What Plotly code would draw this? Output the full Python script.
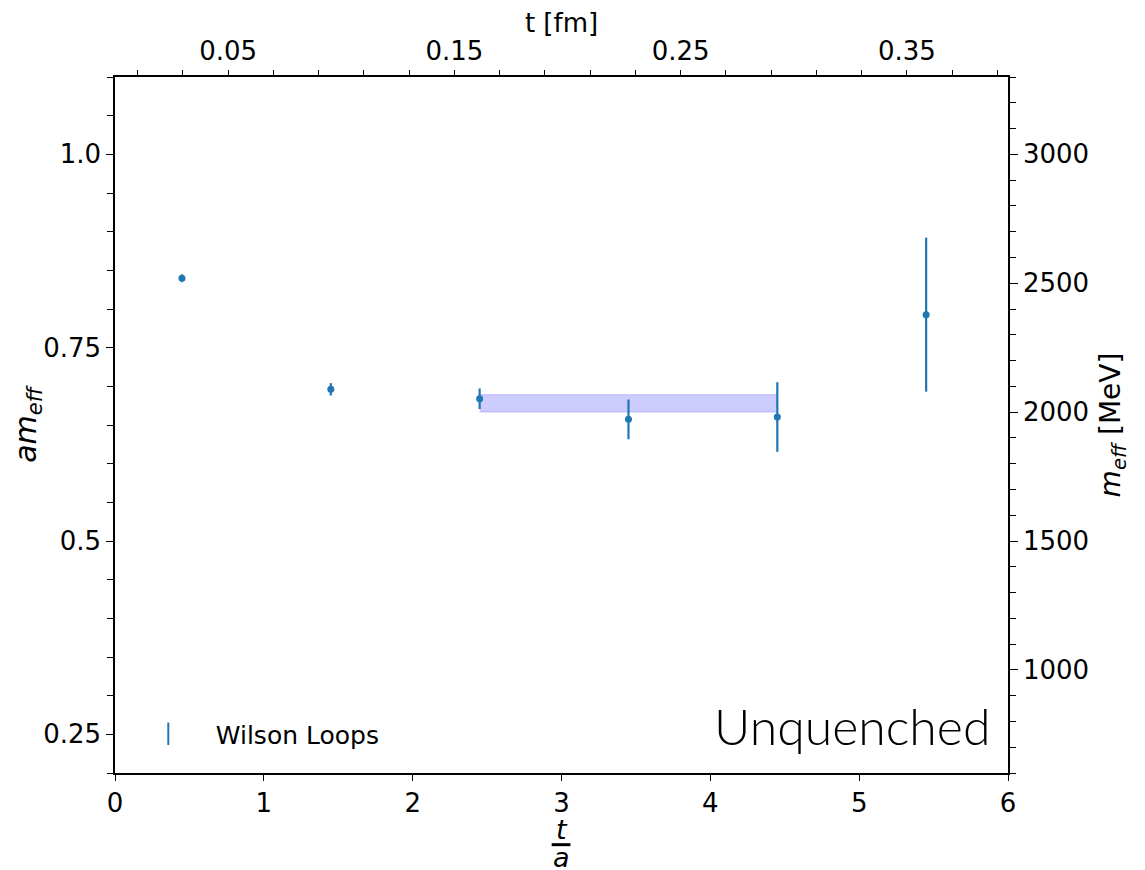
import plotly.graph_objects as go

# effective mass from Wilson loops, lattice units
t_over_a = [0.45, 1.45, 2.45, 3.45, 4.45, 5.45]
am_eff = [0.8397, 0.6961, 0.684, 0.6573, 0.6603, 0.7927]
am_err = [0.005, 0.008, 0.0133, 0.0257, 0.045, 0.0996]

# plateau fit band
band_t = [2.45, 4.45]
band_lo = [0.6667, 0.6667]
band_hi = [0.6892, 0.6892]

A_INV_MEV = 3000.0          # 1/a
A_FM = 197.327 / A_INV_MEV  # lattice spacing in fm

BLUE = "#1f77b4"
BAND = "rgba(0,0,255,0.2)"
FONT = "DejaVu Sans"

fig = go.Figure()

fig.add_trace(go.Scatter(
    x=band_t, y=band_lo, mode="lines", line=dict(color=BAND, width=1),
    showlegend=False, hoverinfo="skip"))
fig.add_trace(go.Scatter(
    x=band_t, y=band_hi, mode="lines", line=dict(color=BAND, width=1),
    fill="tonexty", fillcolor=BAND, showlegend=False, hoverinfo="skip"))

fig.add_trace(go.Scatter(
    x=t_over_a, y=am_eff, mode="markers",
    marker=dict(color=BLUE, size=7),
    error_y=dict(type="data", array=am_err, color=BLUE, thickness=2.2, width=0),
    showlegend=False))

# legend entry styled like an errorbar handle
fig.add_trace(go.Scatter(
    x=[None], y=[None], mode="markers", name="Wilson Loops",
    marker=dict(color=BLUE, symbol="line-ns-open", size=16,
                line=dict(color=BLUE, width=2))))

# invisible twin to carry the physical-unit axes
fig.add_trace(go.Scatter(
    x=[t * A_FM for t in t_over_a], y=[m * A_INV_MEV for m in am_eff],
    xaxis="x2", yaxis="y2", mode="markers", marker=dict(opacity=0),
    showlegend=False, hoverinfo="skip"))

axis_common = dict(showline=True, linecolor="black", linewidth=1.5,
                   ticks="outside", tickcolor="black", tickwidth=1.2,
                   showgrid=False, zeroline=False, automargin=False,
                   tickfont=dict(family=FONT, size=26, color="black"))

# the page body adds an 8px offset, so the figure is drawn 8px smaller
fig.update_layout(
    width=1137, height=862,
    margin=dict(l=107, r=137, t=69, b=97),
    plot_bgcolor="white", paper_bgcolor="white",
    font=dict(family=FONT, size=26, color="black"),
    xaxis=dict(range=[0, 6], dtick=1, tick0=0, ticklen=6, **axis_common),
    xaxis2=dict(range=[0, 6 * A_FM], overlaying="x", side="top", anchor="y",
                tickmode="array", tickvals=[0.05, 0.15, 0.25, 0.35],
                ticktext=["0.05", "0.15", "0.25", "0.35"], ticklen=5,
                minor=dict(tickmode="linear", tick0=0.01, dtick=0.02,
                           ticks="outside", ticklen=5, tickcolor="black"),
                title=dict(text="t [fm]", font=dict(size=26), standoff=0),
                **axis_common),
    yaxis=dict(range=[0.2, 1.1], tickmode="array",
               tickvals=[0.25, 0.5, 0.75, 1.0],
               ticktext=["0.25", "0.5", "0.75", "1.0"], ticklen=7,
               minor=dict(tickmode="linear", tick0=0, dtick=0.05,
                          ticks="outside", ticklen=6, tickcolor="black"),
               title=dict(text="<i>am</i><sub><i>eff</i></sub>",
                          font=dict(size=30), standoff=9),
               **axis_common),
    yaxis2=dict(range=[0.2 * A_INV_MEV, 1.1 * A_INV_MEV], overlaying="y",
                side="right", anchor="x", tick0=0, dtick=500, ticklen=8,
                minor=dict(tickmode="linear", tick0=0, dtick=100,
                           ticks="outside", ticklen=6, tickcolor="black"),
                title=dict(text="<i>m</i><sub><i>eff</i></sub> [MeV]",
                           font=dict(size=28), standoff=12),
                **axis_common),
    legend=dict(x=0.0065, y=0.056, xanchor="left", yanchor="middle",
                itemwidth=85, bgcolor="rgba(0,0,0,0)", font=dict(size=25)),
)

# x-axis label as a stacked fraction t / a
fig.add_annotation(text="<i>t</i>", x=0.5, y=-0.081, xref="paper", yref="paper",
                   showarrow=False, font=dict(size=27), yanchor="middle", height=24)
fig.add_annotation(text="<i>a</i>", x=0.5, y=-0.121, xref="paper", yref="paper",
                   showarrow=False, font=dict(size=27), yanchor="middle", height=22)
fig.add_shape(type="line", xref="paper", yref="paper",
              x0=0.489, x1=0.51, y0=-0.103, y1=-0.103,
              line=dict(color="black", width=3))

fig.add_annotation(text="Unquenched", x=0.982, y=0.068, xref="paper", yref="paper",
                   xanchor="right", yanchor="middle", showarrow=False,
                   font=dict(family="Lato", size=50, color="black", weight=300))

fig.write_html("out.html")
